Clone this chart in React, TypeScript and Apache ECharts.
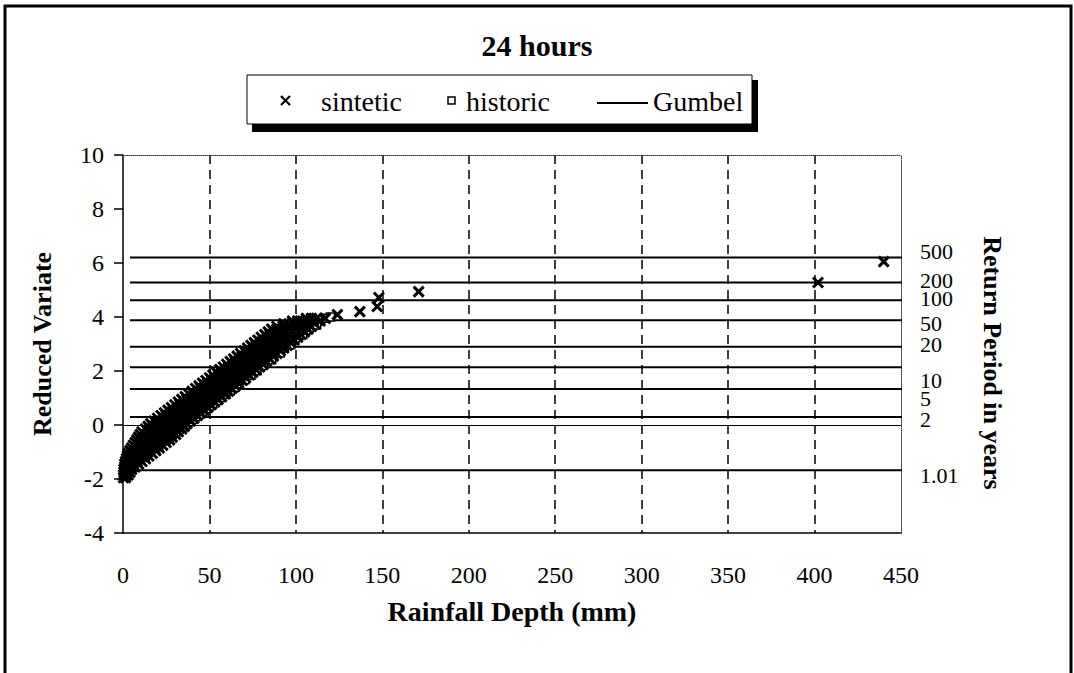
import React, { useEffect, useRef } from "react";
import * as echarts from "echarts";

// ---------- data ----------
const chartTitle = "24 hours";
const xAxisName = "Rainfall Depth (mm)";
const yAxisName = "Reduced Variate";
const rightAxisName = "Return Period in years";

// synthetic series, read as rows: reduced variate -> rainfall depths (mm)
const sinteticVariates = [
  -1.95, -1.85, -1.75, -1.65, -1.55, -1.45, -1.35, -1.25, -1.15, -1.05,
  -0.95, -0.85, -0.75, -0.65, -0.55, -0.45, -0.35, -0.25, -0.15, -0.05,
  0.05, 0.15, 0.25, 0.35, 0.45, 0.55, 0.65, 0.75, 0.85, 0.95,
  1.05, 1.15, 1.25, 1.35, 1.45, 1.55, 1.65, 1.75, 1.85, 1.95,
  2.05, 2.15, 2.25, 2.35, 2.45, 2.55, 2.65, 2.75, 2.85, 2.95,
  3.05, 3.15, 3.25, 3.35, 3.45, 3.55, 3.65, 3.75, 3.85, 3.95,
];
const sinteticDepthRows: number[][] = [
  [0.3, 1.5],
  [0.3, 1.8, 3],
  [0.5, 2.2, 4],
  [0.5, 2.8, 5],
  [1, 3.5, 5.5, 7],
  [1, 3.5, 6, 9],
  [1.5, 4.5, 8, 11],
  [2, 5.5, 9, 13],
  [2.5, 6, 9.5, 12.5, 15],
  [3, 6.5, 10, 13.5, 17],
  [4, 7.5, 11, 15, 19],
  [5, 8.5, 12, 15.5, 18.5, 21],
  [6, 9.5, 13, 16.5, 20, 23],
  [7, 10.5, 14, 17.5, 21, 25],
  [8, 11.5, 15, 18.5, 22, 24.5, 27],
  [9, 12.5, 16, 19.5, 23, 26, 28.5],
  [10, 13.5, 17, 20.5, 24, 27.5, 30.5],
  [11, 14.5, 18, 21.5, 25, 28.5, 32],
  [13, 16.5, 20, 23.5, 27, 30.5, 34],
  [14.5, 18, 21.5, 25, 28.5, 32, 35.5],
  [16, 19.5, 23, 26.5, 30, 33.5, 37],
  [18, 21, 25, 28.5, 32, 35.5, 39],
  [20, 23.5, 27, 30.5, 34, 37.5, 41],
  [22, 25, 29, 32.5, 36, 39.5, 43],
  [24, 27.5, 31, 34.5, 38, 41.5, 45],
  [26, 29, 33, 36.5, 40, 43.5, 47],
  [28, 31.5, 35, 38.5, 42, 45.5, 49],
  [30, 33, 37, 40.5, 44, 47.5, 51],
  [32, 35.5, 39, 42.5, 46, 49.5, 53],
  [34, 37, 41, 44.5, 48, 51.5, 55],
  [36, 39.5, 43, 46.5, 50, 53.5, 57],
  [38, 41, 45, 48.5, 52, 55.5, 59],
  [40, 43.5, 47, 50.5, 54, 57.5, 61],
  [42, 45, 49, 52.5, 56, 59.5, 63],
  [44, 47.5, 51, 54.5, 58, 61.5, 65],
  [46, 49, 53, 56.5, 60, 63.5, 67],
  [48, 51.5, 55, 58.5, 62, 65.5, 69],
  [50, 53, 57, 60.5, 64, 67.5, 71],
  [52, 55.5, 59, 62.5, 66, 69.5, 73],
  [54, 57, 61, 64.5, 68, 71.5, 75],
  [56, 59.5, 63, 66.5, 70, 73.5, 77],
  [58, 61, 65, 68.5, 72, 79],
  [60, 63.5, 67, 70.5, 74, 77.5, 81],
  [62, 65, 69, 72.5, 76, 83],
  [64, 67.5, 71, 74.5, 78, 81.5, 85],
  [66, 69, 73, 76.5, 80, 87],
  [68, 71.5, 75, 78.5, 85.5, 89],
  [70, 73, 77, 80.5, 84, 91],
  [72, 75.5, 79, 82.5, 89.5, 93],
  [74, 77, 81, 84.5, 88, 95],
  [76, 79.5, 83, 86.5, 93.5, 97],
  [78, 81, 85, 88.5, 92, 99],
  [80, 83.5, 87, 90.5, 97.5, 101],
  [82, 85, 89, 92.5, 96, 103],
  [84, 87.5, 91, 94.5, 101.5, 105],
  [86, 89, 93, 96.5, 100, 107],
  [89, 92.5, 96, 99.5, 103, 109],
  [93, 96, 99, 102, 105, 111],
  [98, 101, 104, 107, 110, 114],
  [106, 109, 112, 117],
];
// isolated synthetic points above the main cloud
const sinteticOutliers: [number, number][] = [
  [124, 4.09], [137, 4.2], [147, 4.39], [148, 4.72], [171, 4.94],
  [402, 5.28], [440, 6.05],
];

// historic series: [rainfall depth (mm), reduced variate]
const historicPoints: [number, number][] = [
  [5, -1.5], [11, -1.2], [15, -1.0], [18, -0.85], [21.5, -0.7], [24, -0.58],
  [26, -0.47], [28.5, -0.36], [30.5, -0.26], [32.5, -0.16], [34.5, -0.07],
  [36.5, 0.02], [38.5, 0.12], [40.5, 0.21], [42, 0.31], [44, 0.4], [46, 0.5],
  [48, 0.6], [50, 0.7], [52, 0.8], [54.5, 0.91], [57, 1.02], [59.5, 1.14],
  [62, 1.26], [64.5, 1.39], [67, 1.53], [70.5, 1.68], [74, 1.84], [77.5, 2.01],
  [81, 2.2], [86, 2.42], [91, 2.67], [97, 2.97], [104, 3.35], [112, 3.7],
  [117, 3.95], [120, 4.0],
];

// fitted Gumbel line
const gumbelPoints: [number, number][] = [
  [2, -1.7],
  [120, 3.95],
];

// return periods (years) and their reduced variate levels
const returnPeriodLabels = ["500", "200", "100", "50", "20", "10", "5", "2", "1.01"];
const returnPeriodVariates = [6.2, 5.28, 4.62, 3.88, 2.9, 2.14, 1.33, 0.3, -1.68];
const returnLabelShiftY = [-6, -2, -2, 3, -2, 13, 9, 3, 5];
const returnLineStart = 4;
const returnLineEnd = 459;

const xMin = 0;
const xMax = 450;
const xStep = 50;
const yMin = -4;
const yMax = 10;
const yStep = 2;

const SERIF = "Liberation Serif";

export default function App() {
  const ref = useRef<HTMLDivElement>(null);

  useEffect(() => {
    if (!ref.current) return;
    const chart = echarts.init(ref.current, null, { renderer: "svg" });

    const sinteticPoints: [number, number][] = [];
    sinteticDepthRows.forEach((row, i) => {
      row.forEach((x) => sinteticPoints.push([x, sinteticVariates[i]]));
    });
    sinteticOutliers.forEach((p) => sinteticPoints.push(p));

    const returnLineSeries = returnPeriodVariates.map((v, i) => ({
      type: "line",
      name: "T" + returnPeriodLabels[i],
      data: [
        [returnLineStart, v],
        [returnLineEnd, v],
      ],
      symbol: "none",
      clip: false,
      silent: true,
      lineStyle: { color: "#000", width: 2 },
      z: 1,
    }));

    const option: any = {
      animation: false,
      backgroundColor: "#fff",
      title: {
        text: chartTitle,
        left: "center",
        top: 25,
        textStyle: { fontFamily: SERIF, fontWeight: "bold", fontSize: 30, color: "#000" },
      },
      grid: { left: 123, right: 173, top: 155, bottom: 140, containLabel: false },
      xAxis: [
        {
          type: "value",
          min: xMin,
          max: xMax,
          interval: xStep,
          position: "bottom",
          name: xAxisName,
          nameLocation: "middle",
          nameGap: 64,
          nameTextStyle: { fontFamily: SERIF, fontWeight: "bold", fontSize: 28, color: "#000" },
          axisLine: { show: true, onZero: false, lineStyle: { color: "#000", width: 1.5 } },
          axisTick: { show: false },
          axisLabel: { fontFamily: SERIF, fontSize: 24, color: "#000", margin: 30 },
          splitLine: {
            show: true,
            showMinLine: false,
            showMaxLine: false,
            lineStyle: { color: "#000", width: 1.5, type: [9, 6] },
          },
        },
        {
          type: "value",
          min: xMin,
          max: xMax,
          interval: xStep,
          position: "top",
          axisLine: { show: true, onZero: false, lineStyle: { color: "#333", width: 1, type: "dotted" } },
          axisTick: { show: false },
          axisLabel: { show: false },
          splitLine: { show: false },
        },
      ],
      yAxis: [
        {
          type: "value",
          min: yMin,
          max: yMax,
          interval: yStep,
          position: "left",
          name: yAxisName,
          nameLocation: "middle",
          nameGap: 68,
          nameRotate: 90,
          nameTextStyle: { fontFamily: SERIF, fontWeight: "bold", fontSize: 26, color: "#000" },
          axisLine: { show: true, onZero: false, lineStyle: { color: "#000", width: 1.5 } },
          axisTick: { show: true, inside: false, length: 9, lineStyle: { color: "#000", width: 1.5 } },
          axisLabel: { fontFamily: SERIF, fontSize: 24, color: "#000", margin: 19 },
          splitLine: { show: false },
        },
        {
          type: "value",
          min: yMin,
          max: yMax,
          interval: yStep,
          position: "right",
          axisLine: { show: true, onZero: false, lineStyle: { color: "#333", width: 1, type: "dotted" } },
          axisTick: { show: false },
          axisLabel: { show: false },
          splitLine: { show: false },
        },
      ],
      series: [
        ...returnLineSeries,
        {
          type: "line",
          name: "Gumbel",
          data: gumbelPoints,
          symbol: "none",
          lineStyle: { color: "#000", width: 2 },
          z: 2,
          markLine: {
            silent: true,
            symbol: ["none", "none"],
            label: { show: false },
            lineStyle: { color: "#000", width: 1, type: "solid" },
            data: [{ yAxis: 0 }],
          },
        },
        {
          type: "scatter",
          name: "historic",
          data: historicPoints,
          symbol: "rect",
          symbolSize: 8,
          itemStyle: { color: "#fff", borderColor: "#000", borderWidth: 1.5, opacity: 1 },
          z: 3,
        },
        {
          type: "scatter",
          name: "sintetic",
          data: sinteticPoints,
          symbol: "path://M0,0L10,10M10,0L0,10",
          symbolSize: 10,
          clip: false,
          itemStyle: { color: "rgba(0,0,0,0)", borderColor: "#000", borderWidth: 3, opacity: 1 },
          z: 4,
        },
        {
          type: "scatter",
          name: "returnPeriodLabels",
          data: returnPeriodVariates.map((v, i) => ({
            value: [returnLineEnd, v],
            label: { offset: [0, returnLabelShiftY[i]] },
          })),
          symbolSize: 1,
          clip: false,
          silent: true,
          itemStyle: { color: "rgba(0,0,0,0)", opacity: 1 },
          label: {
            show: true,
            position: "right",
            distance: 3,
            fontFamily: SERIF,
            fontSize: 22,
            color: "#000",
            formatter: (p: any) => returnPeriodLabels[p.dataIndex],
          },
          z: 6,
        },
      ],
      graphic: [
        {
          type: "rect",
          shape: { x: 5, y: 6, width: 1066, height: 720 },
          style: { fill: "none", stroke: "#000", lineWidth: 3 },
          silent: true,
        },
        // legend shadow
        { type: "rect", shape: { x: 252, y: 124, width: 506, height: 8 }, style: { fill: "#000" } },
        { type: "rect", shape: { x: 751, y: 80, width: 7, height: 52 }, style: { fill: "#000" } },
        // legend box
        {
          type: "rect",
          shape: { x: 247, y: 75, width: 505, height: 49 },
          style: { fill: "#fff", stroke: "#000", lineWidth: 1 },
        },
        { type: "line", shape: { x1: 281, y1: 96, x2: 290, y2: 105 }, style: { stroke: "#000", lineWidth: 2.2 } },
        { type: "line", shape: { x1: 290, y1: 96, x2: 281, y2: 105 }, style: { stroke: "#000", lineWidth: 2.2 } },
        {
          type: "text",
          x: 321,
          y: 101,
          style: { text: "sintetic", font: `28px ${SERIF}`, fill: "#000", verticalAlign: "middle" },
        },
        {
          type: "rect",
          shape: { x: 448, y: 97, width: 7, height: 7 },
          style: { fill: "#fff", stroke: "#000", lineWidth: 1.5 },
        },
        {
          type: "text",
          x: 466,
          y: 101,
          style: { text: "historic", font: `28px ${SERIF}`, fill: "#000", verticalAlign: "middle" },
        },
        { type: "line", shape: { x1: 597, y1: 103, x2: 648, y2: 103 }, style: { stroke: "#000", lineWidth: 2 } },
        {
          type: "text",
          x: 653,
          y: 101,
          style: { text: "Gumbel", font: `28px ${SERIF}`, fill: "#000", verticalAlign: "middle" },
        },
        // right axis title
        {
          type: "text",
          x: 992,
          y: 363,
          rotation: -Math.PI / 2,
          style: {
            text: rightAxisName,
            font: `bold 26px ${SERIF}`,
            fill: "#000",
            align: "center",
            verticalAlign: "middle",
          },
        },
      ],
    };

    chart.setOption(option);
    return () => chart.dispose();
  }, []);

  return (
    <div
      ref={ref}
      style={{ position: "absolute", left: 0, top: 0, width: 1074, height: 673, background: "#fff" }}
    />
  );
}
